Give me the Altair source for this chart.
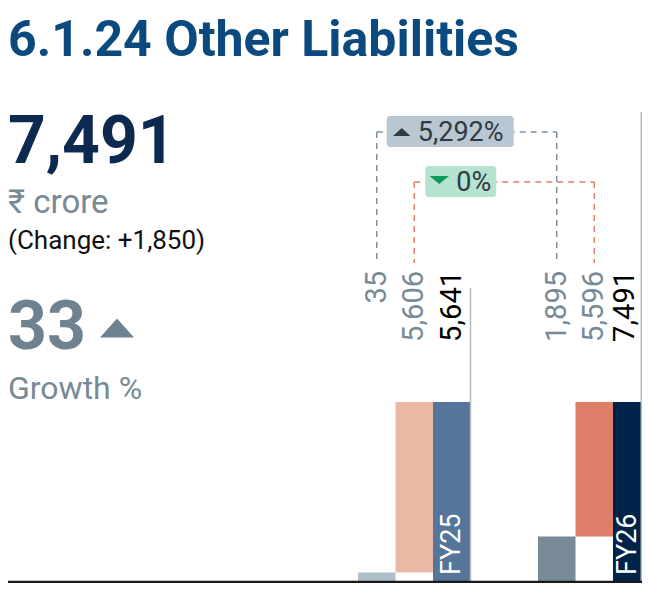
import altair as alt
import pandas as pd

# ---- data ----
groups = ["FY25", "FY25", "FY25", "FY26", "FY26", "FY26"]
parts = ["base", "change", "total", "base", "change", "total"]
values = [35, 5606, 5641, 1895, 5596, 7491]
labels = ["35", "5,606", "5,641", "1,895", "5,596", "7,491"]
slots = [0, 1, 2, 4.8, 5.8, 6.8]
colors = ["#b0c0cb", "#ebb8a5", "#56759a", "#778a96", "#e07f69", "#00234a"]
label_colors = ["#778a96", "#778a96", "#000000", "#778a96", "#778a96", "#000000"]

headline = "7,491"
unit = "₹ crore"
change_text = "(Change: +1,850)"
growth = "33"
growth_label = "Growth %"
title_text = "6.1.24 Other Liabilities"
pct_base = "5,292%"
pct_change = "0%"

MIN_FRAC = 0.053  # minimum visible bar height (display only)

# page has an 8px margin: chart coordinates = reference pixel - 8
O = 8
W, H = 650 - 2 * O, 591 - 2 * O
BW = 37.5           # slot width in px
X0 = 358 - O        # left edge of first slot
BASE_Y = 582 - O    # baseline (chart px)
TOP_Y = 402 - O     # top of the total bars

rows = []
for i in range(0, 6, 3):
    total = values[i + 2]
    fb = max(values[i] / total, MIN_FRAC)
    segs = [(0, fb), (fb, 1.0), (0, 1.0)]
    for k in range(3):
        j = i + k
        lx = slots[j] + 0.5 - (7 / BW if j == 5 else 0)  # keep the last label inside the frame
        fx = slots[j] + 0.5 - (4 / BW if j == 5 else 0)
        rows.append(dict(group=groups[j], part=parts[j], value=values[j], label=labels[j],
                         x0=slots[j], x1=slots[j] + 1, xc=slots[j] + 0.5, lx=lx, fx=fx,
                         y0=segs[k][0], y1=segs[k][1], color=colors[j], lcolor=label_colors[j]))
df = pd.DataFrame(rows)

xs = alt.Scale(domain=[-X0 / BW, (W - X0) / BW], range=[0, W])
unit_h = BASE_Y - TOP_Y
ys = alt.Scale(domain=[-(H - BASE_Y) / unit_h, BASE_Y / unit_h], range=[H, 0])
X = lambda f: alt.X(f, type="quantitative", scale=xs, axis=None)
Y = lambda f: alt.Y(f, type="quantitative", scale=ys, axis=None)

FONT = "Roboto"
base = alt.Chart(df)

bars = base.mark_rect().encode(
    x=X("x0"), x2="x1", y=Y("y0"), y2="y1",
    color=alt.Color("color:N", scale=None),
)

val_labels = base.mark_text(angle=270, align="right", baseline="middle", font=FONT, fontSize=29).encode(
    x=X("lx"), y=alt.value(271 - O), text="label:N", color=alt.Color("lcolor:N", scale=None)
)

fy = base.transform_filter(alt.datum.part == "total").mark_text(
    angle=270, align="left", baseline="middle", font=FONT, fontSize=27, color="white"
).encode(x=X("fx"), y=alt.value(575 - O), text="group:N")

# connectors
conn = pd.DataFrame([
    dict(a=0.5, b=5.3, ytop=132 - O, col="#7d909c"),
    dict(a=1.5, b=6.3, ytop=182 - O, col="#e8806a"),
])
cbase = alt.Chart(conn)
dash = [6, 5]
hlines = cbase.mark_rule(strokeDash=dash, strokeWidth=1.5).encode(
    x=X("a"), x2="b", y=alt.Y("ytop:Q", scale=None), color=alt.Color("col:N", scale=None))
vl = cbase.mark_rule(strokeDash=dash, strokeWidth=1.5).encode(
    x=X("a"), y=alt.Y("ytop:Q", scale=None), y2=alt.value(263 - O), color=alt.Color("col:N", scale=None))
vr = cbase.mark_rule(strokeDash=dash, strokeWidth=1.5).encode(
    x=X("b"), y=alt.Y("ytop:Q", scale=None), y2=alt.value(263 - O), color=alt.Color("col:N", scale=None))

# badges
badges = pd.DataFrame([
    dict(bx0=0.5 + 10 / BW, bx1=0.5 + 137 / BW, by0=116 - O, by1=147 - O, fill="#b8c7d1",
         tx=0.5 + 41 / BW, ty=141 - O, txt=pct_base, sx=0.5 + 25 / BW, sy=132 - O, sc="#2f3a42"),
    dict(bx0=1.5 + 11 / BW, bx1=1.5 + 82 / BW, by0=166 - O, by1=197 - O, fill="#b5e3cf",
         tx=1.5 + 42 / BW, ty=191 - O, txt=pct_change, sx=1.5 + 25 / BW, sy=180 - O, sc="#0b9a5d"),
])
bb = alt.Chart(badges)
boxes = bb.mark_rect(cornerRadius=3).encode(
    x=X("bx0"), x2="bx1", y=alt.Y("by0:Q", scale=None), y2="by1:Q",
    color=alt.Color("fill:N", scale=None))
btext = bb.mark_text(align="left", baseline="alphabetic", font=FONT, fontSize=27, color="#2f3a42").encode(
    x=X("tx"), y=alt.Y("ty:Q", scale=None), text="txt:N")
tri1 = alt.Chart(badges.iloc[[0]]).mark_point(filled=True, opacity=1, size=300,
                                              shape="M-1,0.45L1,0.45L0,-0.45Z").encode(
    x=X("sx"), y=alt.Y("sy:Q", scale=None), color=alt.Color("sc:N", scale=None))
tri2 = alt.Chart(badges.iloc[[1]]).mark_point(filled=True, opacity=1, size=380,
                                              shape="M-1,-0.42L1,-0.42L0,0.42Z").encode(
    x=X("sx"), y=alt.Y("sy:Q", scale=None), color=alt.Color("sc:N", scale=None))

# separators and baseline
seps = pd.DataFrame(dict(sx=[3.0, (W - 0.75 - X0) / BW], ytop=[288 - O, 112 - O]))
sep = alt.Chart(seps).mark_rule(color="#b0bcc6", strokeWidth=1.5).encode(
    x=X("sx"), y=alt.Y("ytop:Q", scale=None), y2=alt.value(BASE_Y))
baseline = alt.Chart(pd.DataFrame(dict(v=[0]))).mark_rule(color="#1a1a1a", strokeWidth=2.5).encode(
    y=Y("v"), x=alt.value(0), x2=alt.value(W))

# left panel texts
def txt(s, x, y, size, color, weight="normal", font=FONT):
    return alt.Chart(pd.DataFrame(dict(t=[s]))).mark_text(
        align="left", baseline="alphabetic", font=font, fontSize=size, fontWeight=weight, color=color
    ).encode(x=alt.value(x), y=alt.value(y), text="t:N")

title = txt(title_text, 0, 47.5, 50, "#0b4a7e", "bold")
t1 = txt(headline, 0, 163 - O, 66, "#0c2a4f", "bold")
t2 = txt(unit, 0, 213 - O, 33, "#778a96")
t3 = txt(change_text, 0, 249 - O, 26, "#111111")
t4 = txt(growth, 0, 349 - O, 68, "#6e8290", "bold")
t5 = txt(growth_label, 0, 399 - O, 32, "#778a96")
gtri = alt.Chart(pd.DataFrame(dict(v=[1]))).mark_point(
    filled=True, opacity=1, size=1156, shape="M-1,0.56L1,0.56L0,-0.56Z", color="#6e8290"
).encode(x=alt.value(117 - O), y=alt.value(328 - O))

chart = alt.layer(
    bars, sep, baseline, hlines, vl, vr, boxes, btext, tri1, tri2, val_labels, fy,
    title, t1, t2, t3, t4, t5, gtri
).properties(width=W, height=H, padding=0, autosize="none").configure_view(stroke="transparent")

chart.save("out.html", embed_options={"renderer": "svg", "actions": False})
